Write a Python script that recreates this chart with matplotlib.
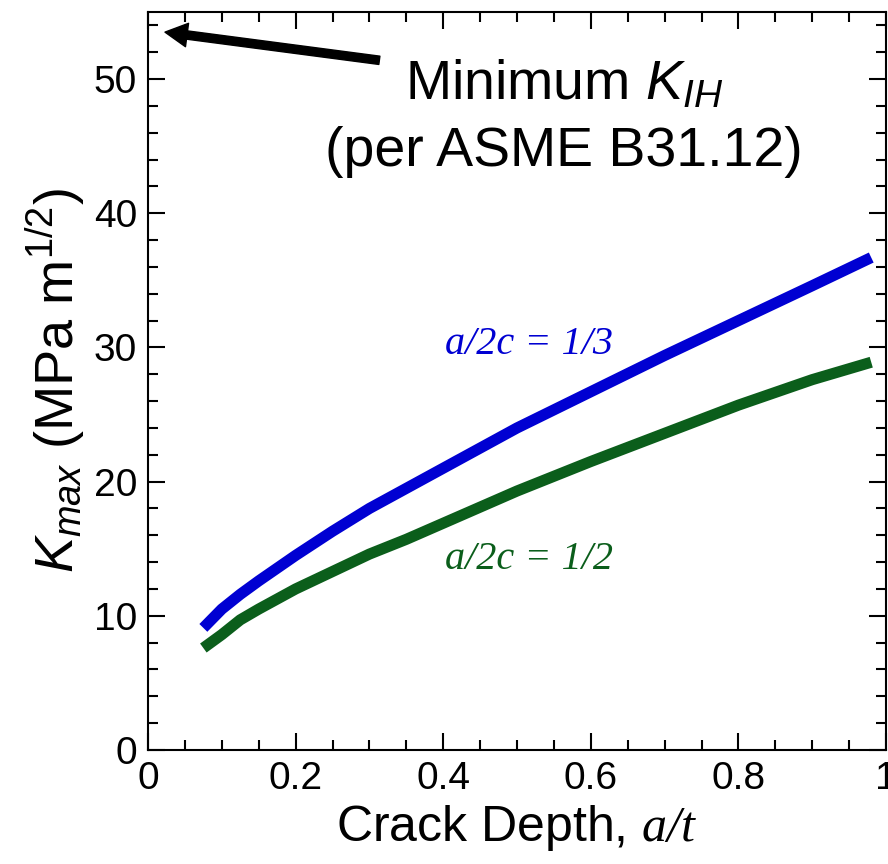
import matplotlib
matplotlib.use("Agg")
import matplotlib.pyplot as plt
from matplotlib.ticker import MultipleLocator

plt.rcParams['font.family'] = ['Liberation Sans', 'DejaVu Sans']
plt.rcParams['mathtext.fontset'] = 'custom'
plt.rcParams['mathtext.rm'] = 'Liberation Sans'
plt.rcParams['mathtext.it'] = 'Liberation Sans:italic'
plt.rcParams['mathtext.sf'] = 'Liberation Serif:italic'

# Data
crack_depth = [0.075, 0.10, 0.125, 0.15, 0.20, 0.25, 0.30, 0.35, 0.40, 0.50, 0.60, 0.70, 0.80, 0.90, 0.98]
kmax_third = [9.1, 10.5, 11.6, 12.6, 14.5, 16.3, 18.0, 19.5, 21.0, 24.0, 26.7, 29.4, 32.0, 34.6, 36.7]
kmax_half = [7.6, 8.6, 9.7, 10.5, 12.0, 13.3, 14.6, 15.7, 16.9, 19.3, 21.5, 23.6, 25.7, 27.6, 28.9]
label_third = "a/2c = 1/3"
label_half = "a/2c = 1/2"

blue = '#0000D2'
green = '#0B5E1B'

fig = plt.figure(figsize=(8.88, 8.64), dpi=100)
ax = fig.add_axes([148/888, 1-750/864, (886-148)/888, (750-12)/864])

ax.plot(crack_depth, kmax_third, color=blue, lw=8, solid_capstyle='butt', solid_joinstyle='round')
ax.plot(crack_depth, kmax_half, color=green, lw=8, solid_capstyle='butt', solid_joinstyle='round')

ax.set_xlim(0, 1)
ax.set_ylim(0, 55)
ax.xaxis.set_major_locator(MultipleLocator(0.2))
ax.xaxis.set_minor_locator(MultipleLocator(0.05))
ax.yaxis.set_major_locator(MultipleLocator(10))
ax.yaxis.set_minor_locator(MultipleLocator(2))
ax.set_xticks([0, 0.2, 0.4, 0.6, 0.8, 1.0])
ax.set_xticklabels(['0', '0.2', '0.4', '0.6', '0.8', '1'])
ax.tick_params(which='both', direction='in', top=True, right=True, width=1.5, labelsize=28, pad=8)
ax.tick_params(which='major', length=12)
ax.tick_params(which='minor', length=7)
for s in ax.spines.values():
    s.set_linewidth(1.5)

ax.set_xlabel(r"Crack Depth, $\mathsf{a/t}$", fontsize=36, labelpad=4)
ax.set_ylabel(r"$K_{max}$ (MPa m$^{1/2}$)", fontsize=39, labelpad=4)

ax.text(0.516, 30.2, label_third, color=blue, fontsize=29, family='Liberation Serif',
        style='italic', ha='center', va='center')
ax.text(0.516, 14.2, label_half, color=green, fontsize=29, family='Liberation Serif',
        style='italic', ha='center', va='center')

ax.annotate('', xy=(0.023, 53.5), xytext=(0.3135, 51.4),
            arrowprops=dict(facecolor='black', edgecolor='black', width=6,
                            headwidth=17, headlength=16, shrink=0))
ax.text(0.5635, 48.5, r"Minimum $K_{IH}$", fontsize=40, ha='center', va='baseline')
ax.text(0.5635, 43.5, "(per ASME B31.12)", fontsize=40, ha='center', va='baseline')

fig.savefig("out.png", dpi=100)
